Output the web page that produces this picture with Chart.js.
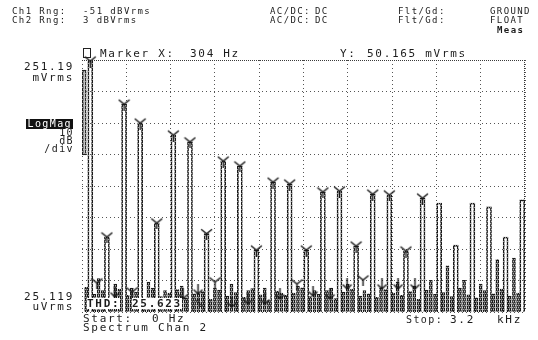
<!DOCTYPE html>
<html>
<head>
<meta charset="utf-8">
<script src="https://cdn.jsdelivr.net/npm/chart.js@4.4.1/dist/chart.umd.min.js"></script>
<style>
  html, body { margin: 0; padding: 0; background: #fff; }
  #wrap { position: relative; width: 538px; height: 340px; overflow: hidden; background: #fff; }
  #wrap canvas { position: absolute; left: 0; top: 0; }
  .t { position: absolute; white-space: pre; color: #1c1c1c; font-family: "DejaVu Sans Mono", monospace; line-height: 1; }
  .s { font-size: 9px; letter-spacing: 1.4px; }
  .m { font-size: 11px; letter-spacing: 1.7px; }
  .n { font-size: 10px; letter-spacing: 1.4px; }
  .r { text-align: right; }
  .b { font-weight: bold; }
  .inv { background: #111; color: #fff; padding: 0 1px; }
  .wb { background: #fff; }
  .mk { position: absolute; left: 83px; top: 48px; width: 6px; height: 8px; border: 1px solid #222; }
</style>
</head>
<body>
<div id="wrap">
  <canvas id="c" width="538" height="340"></canvas>

  <!-- instrument header -->
  <div class="t s" style="left:12px;top:7px">Ch1 Rng:</div>
  <div class="t s" style="left:83px;top:7px">-51 dBVrms</div>
  <div class="t s" style="left:270px;top:7px">AC/DC:</div>
  <div class="t s" style="left:315px;top:7px">DC</div>
  <div class="t s" style="left:398px;top:7px">Flt/Gd:</div>
  <div class="t s" style="left:490px;top:7px">GROUND</div>
  <div class="t s" style="left:12px;top:16px">Ch2 Rng:</div>
  <div class="t s" style="left:83px;top:16px">3 dBVrms</div>
  <div class="t s" style="left:270px;top:16px">AC/DC:</div>
  <div class="t s" style="left:315px;top:16px">DC</div>
  <div class="t s" style="left:398px;top:16px">Flt/Gd:</div>
  <div class="t s" style="left:490px;top:16px">FLOAT</div>
  <div class="t s b" style="left:497px;top:26px">Meas</div>

  <!-- marker readout -->
  <div class="mk"></div>
  <div class="t m" style="left:100px;top:48px">Marker X:</div>
  <div class="t m" style="left:190px;top:48px">304 Hz</div>
  <div class="t m" style="left:340px;top:48px">Y:</div>
  <div class="t m" style="left:367px;top:48px">50.165 mVrms</div>

  <!-- amplitude scale annotations -->
  <div class="t m r" style="right:464px;top:61px">251.19</div>
  <div class="t m r" style="right:464px;top:72px">mVrms</div>
  <div class="t n r inv" style="right:465px;top:119px">LogMag</div>
  <div class="t n r" style="right:464px;top:128px">10</div>
  <div class="t n r" style="right:464px;top:136px">dB</div>
  <div class="t n r" style="right:464px;top:144px">/div</div>
  <div class="t m r" style="right:464px;top:291px">25.119</div>
  <div class="t m r" style="right:464px;top:301px">uVrms</div>

  <!-- measurement and span -->
  <div class="t m b wb" style="left:87px;top:298px">THD:</div>
  <div class="t m b wb" style="left:132px;top:298px">25.623</div>
  <div class="t m b" style="left:196px;top:298px">%</div>
  <div class="t m" style="left:83px;top:313px">Start:</div>
  <div class="t m" style="left:152px;top:313px">0 Hz</div>
  <div class="t m" style="left:83px;top:322px">Spectrum Chan 2</div>
  <div class="t n" style="left:406px;top:315px">Stop:</div>
  <div class="t m" style="left:450px;top:314px">3.2</div>
  <div class="t m" style="left:497px;top:314px">kHz</div>
</div>

<script>
// Spectrum of channel 2, 0 - 3.2 kHz, amplitudes in mVrms (10 dB/div log scale)
const HARMONIC_HZ = [60, 180, 304, 420, 540, 660, 780, 900, 1020, 1140, 1260, 1380, 1500, 1620,
                     1740, 1860, 1980, 2100, 2220, 2340, 2460, 2580, 2700, 2820, 2940, 3060, 3180];
const HARMONIC_MV = [242, 0.39, 50.165, 25.1, 0.65, 16.2, 12.6, 0.44, 6.26, 5.22, 0.242, 2.9, 2.7, 0.242,
                     2.02, 2.09, 0.28, 1.87, 1.81, 0.233, 1.62, 1.35, 0.29, 1.35, 1.17, 0.39, 1.51];
// peaks tagged by the analyzer's peak search
const MARKED_COUNT = 21;

const EVEN_HZ = [120, 240, 360, 480, 600, 720, 840, 960, 1080, 1200, 1320, 1440, 1560, 1680, 1800,
                 1920, 2040, 2160, 2280, 2400, 2520, 2640, 2760, 2880, 3000, 3120];
const EVEN_MV = [0.085, 0.070, 0.060, 0.075, 0.055, 0.065, 0.050, 0.060, 0.070, 0.055, 0.060, 0.050, 0.065,
                 0.055, 0.060, 0.070, 0.055, 0.060, 0.075, 0.065, 0.080, 0.136, 0.080, 0.070, 0.170, 0.180];

const FLOOR_HZ = [30, 90, 150, 210, 270, 330, 390, 450, 510, 570, 630, 690, 750, 810, 870, 930, 990, 1050,
                  1110, 1170, 1230, 1290, 1350, 1410, 1470, 1530, 1590, 1650, 1710, 1770, 1830, 1890, 1950,
                  2010, 2070, 2130, 2190, 2250, 2310, 2370, 2430, 2490, 2550, 2610, 2670, 2730, 2790, 2850,
                  2910, 2970, 3030, 3090, 3150];
const FLOOR_MV = [0.062, 0.048, 0.055, 0.041, 0.058, 0.046, 0.052, 0.039, 0.060, 0.044,
                  0.050, 0.057, 0.042, 0.049, 0.053, 0.040, 0.056, 0.045, 0.051, 0.043,
                  0.059, 0.047, 0.038, 0.054, 0.046, 0.050, 0.061, 0.044, 0.048, 0.055,
                  0.041, 0.052, 0.058, 0.045, 0.049, 0.043, 0.057, 0.050, 0.046, 0.053,
                  0.040, 0.056, 0.048, 0.051, 0.044, 0.060, 0.047, 0.042, 0.055, 0.049,
                  0.058, 0.045, 0.050];

// DC bin drawn as a closed span
const DC_HZ = [16];
const DC_SPAN_MV = [[7.8, 174]];

// low-level peak tags in the noise floor
const FLOOR_PEAK_HZ = [108, 361, 961, 1553, 2030];
const FLOOR_PEAK_MV = [0.0726, 0.0521, 0.0753, 0.070, 0.081];
const FLOOR_DIP_HZ = [238, 730, 838, 1083, 1199, 1322, 1430, 1669, 1792, 1915, 2167, 2283, 2405];
const FLOOR_DIP_MV = [0.0503, 0.0468, 0.0561, 0.0349, 0.039, 0.039, 0.0468, 0.0521, 0.0468, 0.0674,
                      0.0674, 0.0674, 0.0674];

// axis limits and 10 dB grid levels (mVrms)
const F_START = 0, F_STOP = 3200, F_DIV = 320;
const GRID_MV = [0.025119, 0.079433, 0.25119, 0.79433, 2.5119, 7.9433, 25.119, 79.433, 251.19];

const canvas = document.getElementById('c');
const ctx = canvas.getContext('2d');

// speckled ink for the trace outlines
function ink() {
  const src = document.createElement('canvas');
  src.width = 2; src.height = 4;
  const g = src.getContext('2d');
  g.fillStyle = '#1a1a1a'; g.fillRect(0, 0, 2, 4);
  g.fillStyle = '#a0a0a0'; g.fillRect(0, 3, 1, 1); g.fillRect(1, 1, 1, 1);
  return ctx.createPattern(src, 'repeat');
}

// peak tag "Y": junction at the centre of the glyph
function peakGlyph() {
  const c = document.createElement('canvas');
  c.width = 13; c.height = 13;
  const g = c.getContext('2d');
  g.strokeStyle = '#151515'; g.lineWidth = 1.4; g.lineCap = 'round';
  g.beginPath();
  g.moveTo(1.5, 2.5); g.lineTo(6.5, 6.5); g.lineTo(11.5, 2.5);
  g.moveTo(6.5, 6.5); g.lineTo(6.5, 12.5);
  g.stroke();
  return c;
}
// downward tag used on floor dips
function dipGlyph() {
  const c = document.createElement('canvas');
  c.width = 11; c.height = 13;
  const g = c.getContext('2d');
  g.strokeStyle = '#151515'; g.lineWidth = 1.4; g.lineCap = 'round';
  g.beginPath();
  g.moveTo(5.5, 0.5); g.lineTo(5.5, 10.5);
  g.moveTo(1.5, 6.5); g.lineTo(5.5, 10.5); g.lineTo(9.5, 6.5);
  g.stroke();
  return c;
}

const pts = (xs, ys) => xs.map((x, i) => ({ x: x, y: ys[i] }));
const traceInk = ink();

// denser dotted top and right frame edges
const frameEdges = {
  id: 'frameEdges',
  beforeDatasetsDraw(chart) {
    const a = chart.chartArea;
    const g = chart.ctx;
    g.save();
    g.strokeStyle = '#3a3a3a';
    g.lineWidth = 1;
    g.setLineDash([1, 1]);
    g.beginPath();
    g.moveTo(a.left, a.top + 0.5); g.lineTo(a.right, a.top + 0.5);
    g.moveTo(a.right - 0.5, a.top); g.lineTo(a.right - 0.5, a.bottom);
    g.stroke();
    g.restore();
  }
};

const outline = { grouped: false, backgroundColor: 'rgba(255,255,255,0)', borderColor: traceInk, borderWidth: 1 };

new Chart(ctx, {
  type: 'bar',
  data: {
    datasets: [
      {
        type: 'scatter', order: 0, clip: false,
        data: pts(HARMONIC_HZ.slice(0, MARKED_COUNT), HARMONIC_MV.slice(0, MARKED_COUNT)),
        pointStyle: peakGlyph(), pointRadius: 6
      },
      {
        type: 'scatter', order: 0, clip: false,
        data: pts(FLOOR_PEAK_HZ, FLOOR_PEAK_MV),
        pointStyle: peakGlyph(), pointRadius: 6
      },
      {
        type: 'scatter', order: 0, clip: false,
        data: pts(FLOOR_DIP_HZ, FLOOR_DIP_MV),
        pointStyle: dipGlyph(), pointRadius: 6
      },
      Object.assign({ order: 1, data: pts(HARMONIC_HZ, HARMONIC_MV), barThickness: 5 }, outline),
      Object.assign({ order: 2, data: pts(EVEN_HZ, EVEN_MV), barThickness: 3 }, outline),
      Object.assign({ order: 2, data: pts(FLOOR_HZ, FLOOR_MV), barThickness: 3 }, outline),
      Object.assign({ order: 1, data: pts(DC_HZ, DC_SPAN_MV), barThickness: 4 }, outline,
                    { backgroundColor: 'rgba(120,120,120,0.35)', borderSkipped: false })
    ]
  },
  options: {
    responsive: false,
    animation: false,
    devicePixelRatio: 1,
    layout: { padding: { left: 82, top: 60, right: 13, bottom: 28 } },
    plugins: { legend: { display: false }, tooltip: { enabled: false } },
    scales: {
      x: {
        type: 'linear', min: F_START, max: F_STOP, offset: false,
        ticks: { display: false, stepSize: F_DIV },
        grid: { color: '#555', lineWidth: 1, drawTicks: false, offset: false },
        border: { display: false, dash: [1, 3] }
      },
      y: {
        type: 'logarithmic', min: GRID_MV[0], max: GRID_MV[GRID_MV.length - 1],
        afterBuildTicks: (axis) => { axis.ticks = GRID_MV.map(v => ({ value: v })); },
        ticks: { display: false },
        grid: { color: '#555', lineWidth: 1, drawTicks: false },
        border: { display: false, dash: [1, 3] }
      }
    }
  },
  plugins: [frameEdges]
});
</script>
</body>
</html>
